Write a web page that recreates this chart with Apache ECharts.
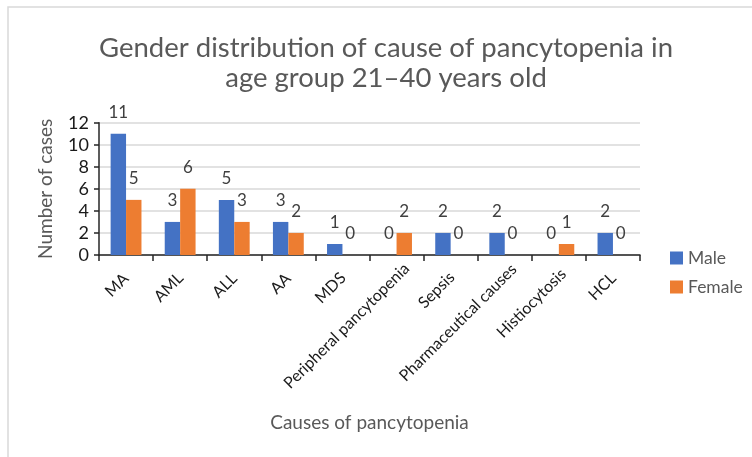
<!DOCTYPE html>
<html><head><meta charset="utf-8">
<script src="https://cdn.jsdelivr.net/npm/echarts@6/dist/echarts.min.js"></script>
<style>html,body{margin:0;padding:0;background:#fff}#c{width:752px;height:457px}</style>
</head><body><div id="c"></div>
<script>
const categories = ["MA","AML","ALL","AA","MDS","Peripheral pancytopenia","Sepsis","Pharmaceutical causes","Histiocytosis","HCL"];
const male = [11,3,5,3,1,0,2,2,0,2];
const female = [5,6,3,2,0,2,0,0,1,0];
const yTicks = [0,2,4,6,8,10,12];
const titleLines = ["Gender distribution of cause of pancytopenia in","age group 21\u201340 years old"];

const FONT = "Lato, 'Open Sans', sans-serif";
const CAT_FONT_SIZE = 16;
// Emulate Excel's placement of long rotated labels: shift right in proportion to length
const mctx = document.createElement('canvas').getContext('2d');
mctx.font = CAT_FONT_SIZE + 'px ' + FONT;
const catItems = categories.map(function (c) {
  const w = mctx.measureText(c).width;
  const d = Math.max(0, 0.14 * (w - 25));
  const k = Math.SQRT1_2 * d;
  return {value: c, textStyle: {padding: [2 * k, -k, 0, 0]}};
});

const chart = echarts.init(document.getElementById('c'), null, {renderer:'canvas'});
const labelCfg = {show:true, position:'top', distance:13, fontSize:17, color:'#404040', fontFamily:FONT};
chart.setOption({
  animation:false,
  textStyle:{fontFamily:FONT},
  graphic:[{type:'rect', shape:{x:8, y:7, width:800, height:500}, style:{fill:'none', stroke:'#d9d9d9', lineWidth:1.5}, z:-1}],
  title:{text:titleLines.join('\n'), left:381, top:28, textAlign:'center',
    textStyle:{fontSize:27.5, fontWeight:'normal', color:'#595959', lineHeight:30, fontFamily:FONT}},
  legend:{orient:'vertical', left:670, top:249, padding:0, itemWidth:13, itemHeight:13, itemGap:11,
    icon:'rect', textStyle:{fontSize:17.5, color:'#595959', fontFamily:FONT}, data:['Male','Female']},
  grid:{left:99, right:112, top:122.7, bottom:202, containLabel:false},
  xAxis:{type:'category', data:catItems,
    axisLine:{lineStyle:{color:'#262626', width:1.5}},
    axisTick:{show:true, length:6, lineStyle:{color:'#262626', width:1.5}},
    axisLabel:{rotate:45, fontSize:CAT_FONT_SIZE, color:'#1a1a1a', margin:21, interval:0, fontFamily:FONT},
    name:'Causes of pancytopenia', nameLocation:'middle', nameGap:158.5,
    nameTextStyle:{fontSize:19, color:'#595959', fontFamily:FONT}},
  yAxis:{type:'value', min:yTicks[0], max:yTicks[yTicks.length-1], interval:2,
    axisLine:{show:true, lineStyle:{color:'#262626', width:1.5}},
    axisTick:{show:true, length:5, lineStyle:{color:'#262626', width:1.5}},
    axisLabel:{fontSize:18, color:'#1a1a1a', margin:10, fontFamily:FONT},
    splitLine:{lineStyle:{color:'#d9d9d9', width:1.5}},
    name:'Number of cases', nameLocation:'middle', nameGap:43.5, nameRotate:90,
    nameTextStyle:{fontSize:19, color:'#595959', fontFamily:FONT}},
  series:[
    {name:'Male', type:'bar', data:male, barGap:'0%', barCategoryGap:'43%',
      itemStyle:{color:'#4472C4'}, label:labelCfg},
    {name:'Female', type:'bar', data:female, barGap:'0%', barCategoryGap:'43%',
      itemStyle:{color:'#ED7D31'}, label:labelCfg}
  ]
});
</script></body></html>
